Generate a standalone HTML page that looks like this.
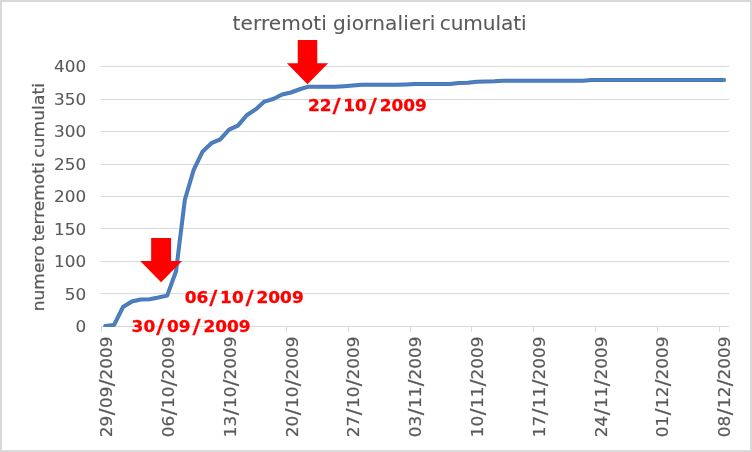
<!DOCTYPE html>
<html lang="it"><head><meta charset="utf-8"><title>terremoti giornalieri cumulati</title>
<style>html,body{margin:0;padding:0;background:#fff;overflow:hidden}svg{display:block}text{font-family:"DejaVu Sans","Liberation Sans",sans-serif;fill:#595959;stroke:#595959;stroke-width:0.08px}.ax{font-size:15.7px}.xl{font-size:16.4px;stroke-width:0.2px}.red{fill:#ff0000;stroke:#ff0000;stroke-width:0.3px;font-weight:bold;font-size:16px}</style></head><body>
<svg width="752" height="452" viewBox="0 0 752 452">
<rect x="0" y="0" width="752" height="452" fill="#fff"/>
<rect x="1" y="1" width="750" height="450" fill="none" stroke="#d9d9d9" stroke-width="2"/>
<rect x="101" y="66" width="628" height="1" fill="#d9d9d9"/>
<rect x="101" y="99" width="628" height="1" fill="#d9d9d9"/>
<rect x="101" y="131" width="628" height="1" fill="#d9d9d9"/>
<rect x="101" y="164" width="628" height="1" fill="#d9d9d9"/>
<rect x="101" y="196" width="628" height="1" fill="#d9d9d9"/>
<rect x="101" y="228" width="628" height="1" fill="#d9d9d9"/>
<rect x="101" y="261" width="628" height="1" fill="#d9d9d9"/>
<rect x="101" y="293" width="628" height="1" fill="#d9d9d9"/>
<rect x="101" y="326" width="628" height="1" fill="#d9d9d9"/>
<rect x="101" y="326" width="1" height="6" fill="#d9d9d9"/>
<rect x="162" y="326" width="1" height="6" fill="#d9d9d9"/>
<rect x="224" y="326" width="1" height="6" fill="#d9d9d9"/>
<rect x="286" y="326" width="1" height="6" fill="#d9d9d9"/>
<rect x="348" y="326" width="1" height="6" fill="#d9d9d9"/>
<rect x="410" y="326" width="1" height="6" fill="#d9d9d9"/>
<rect x="471" y="326" width="1" height="6" fill="#d9d9d9"/>
<rect x="533" y="326" width="1" height="6" fill="#d9d9d9"/>
<rect x="595" y="326" width="1" height="6" fill="#d9d9d9"/>
<rect x="657" y="326" width="1" height="6" fill="#d9d9d9"/>
<rect x="719" y="326" width="1" height="6" fill="#d9d9d9"/>
<text class="ax" text-anchor="end" transform="translate(86.3,72.00) scale(1.075,1)">400</text>
<text class="ax" text-anchor="end" transform="translate(86.3,104.50) scale(1.075,1)">350</text>
<text class="ax" text-anchor="end" transform="translate(86.3,137.00) scale(1.075,1)">300</text>
<text class="ax" text-anchor="end" transform="translate(86.3,169.50) scale(1.075,1)">250</text>
<text class="ax" text-anchor="end" transform="translate(86.3,202.00) scale(1.075,1)">200</text>
<text class="ax" text-anchor="end" transform="translate(86.3,234.50) scale(1.075,1)">150</text>
<text class="ax" text-anchor="end" transform="translate(86.3,267.00) scale(1.075,1)">100</text>
<text class="ax" text-anchor="end" transform="translate(86.3,299.50) scale(1.075,1)">50</text>
<text class="ax" text-anchor="end" transform="translate(86.3,332.00) scale(1.075,1)">0</text>
<text y="30.2" style="font-size:20.1px"><tspan x="232.5" style="letter-spacing:0.09px">terremoti </tspan><tspan x="333.1" style="letter-spacing:0.13px">giornalieri </tspan><tspan x="439.7" style="letter-spacing:-0.07px">cumulati</tspan></text>
<text transform="translate(44.1,311.2) rotate(-90) scale(1.076,1)" style="font-size:15.8px;stroke-width:0.25px"><tspan x="0.00">numero </tspan><tspan x="64.68">terremoti </tspan><tspan x="142.57" style="letter-spacing:0.1px">cumulati</tspan></text>
<text class="xl" text-anchor="middle" transform="translate(112.26,436.6) rotate(-90) scale(1.027,1)"><tspan x="9.85">29</tspan><tspan x="24.05" dy="0.9" style="font-size:19.5px">/</tspan><tspan x="38.25" dy="-0.9">09</tspan><tspan x="52.30" dy="0.9" style="font-size:19.5px">/</tspan><tspan x="76.50" dy="-0.9">2009</tspan></text>
<text class="xl" text-anchor="middle" transform="translate(174.07,436.6) rotate(-90) scale(1.027,1)"><tspan x="9.85">06</tspan><tspan x="24.05" dy="0.9" style="font-size:19.5px">/</tspan><tspan x="38.25" dy="-0.9">10</tspan><tspan x="52.30" dy="0.9" style="font-size:19.5px">/</tspan><tspan x="76.50" dy="-0.9">2009</tspan></text>
<text class="xl" text-anchor="middle" transform="translate(235.87,436.6) rotate(-90) scale(1.027,1)"><tspan x="9.85">13</tspan><tspan x="24.05" dy="0.9" style="font-size:19.5px">/</tspan><tspan x="38.25" dy="-0.9">10</tspan><tspan x="52.30" dy="0.9" style="font-size:19.5px">/</tspan><tspan x="76.50" dy="-0.9">2009</tspan></text>
<text class="xl" text-anchor="middle" transform="translate(297.67,436.6) rotate(-90) scale(1.027,1)"><tspan x="9.85">20</tspan><tspan x="24.05" dy="0.9" style="font-size:19.5px">/</tspan><tspan x="38.25" dy="-0.9">10</tspan><tspan x="52.30" dy="0.9" style="font-size:19.5px">/</tspan><tspan x="76.50" dy="-0.9">2009</tspan></text>
<text class="xl" text-anchor="middle" transform="translate(359.48,436.6) rotate(-90) scale(1.027,1)"><tspan x="9.85">27</tspan><tspan x="24.05" dy="0.9" style="font-size:19.5px">/</tspan><tspan x="38.25" dy="-0.9">10</tspan><tspan x="52.30" dy="0.9" style="font-size:19.5px">/</tspan><tspan x="76.50" dy="-0.9">2009</tspan></text>
<text class="xl" text-anchor="middle" transform="translate(421.28,436.6) rotate(-90) scale(1.027,1)"><tspan x="9.85">03</tspan><tspan x="24.05" dy="0.9" style="font-size:19.5px">/</tspan><tspan x="38.25" dy="-0.9">11</tspan><tspan x="52.30" dy="0.9" style="font-size:19.5px">/</tspan><tspan x="76.50" dy="-0.9">2009</tspan></text>
<text class="xl" text-anchor="middle" transform="translate(483.08,436.6) rotate(-90) scale(1.027,1)"><tspan x="9.85">10</tspan><tspan x="24.05" dy="0.9" style="font-size:19.5px">/</tspan><tspan x="38.25" dy="-0.9">11</tspan><tspan x="52.30" dy="0.9" style="font-size:19.5px">/</tspan><tspan x="76.50" dy="-0.9">2009</tspan></text>
<text class="xl" text-anchor="middle" transform="translate(544.89,436.6) rotate(-90) scale(1.027,1)"><tspan x="9.85">17</tspan><tspan x="24.05" dy="0.9" style="font-size:19.5px">/</tspan><tspan x="38.25" dy="-0.9">11</tspan><tspan x="52.30" dy="0.9" style="font-size:19.5px">/</tspan><tspan x="76.50" dy="-0.9">2009</tspan></text>
<text class="xl" text-anchor="middle" transform="translate(606.69,436.6) rotate(-90) scale(1.027,1)"><tspan x="9.85">24</tspan><tspan x="24.05" dy="0.9" style="font-size:19.5px">/</tspan><tspan x="38.25" dy="-0.9">11</tspan><tspan x="52.30" dy="0.9" style="font-size:19.5px">/</tspan><tspan x="76.50" dy="-0.9">2009</tspan></text>
<text class="xl" text-anchor="middle" transform="translate(668.49,436.6) rotate(-90) scale(1.027,1)"><tspan x="9.85">01</tspan><tspan x="24.05" dy="0.9" style="font-size:19.5px">/</tspan><tspan x="38.25" dy="-0.9">12</tspan><tspan x="52.30" dy="0.9" style="font-size:19.5px">/</tspan><tspan x="76.50" dy="-0.9">2009</tspan></text>
<text class="xl" text-anchor="middle" transform="translate(730.29,436.6) rotate(-90) scale(1.027,1)"><tspan x="9.85">08</tspan><tspan x="24.05" dy="0.9" style="font-size:19.5px">/</tspan><tspan x="38.25" dy="-0.9">12</tspan><tspan x="52.30" dy="0.9" style="font-size:19.5px">/</tspan><tspan x="76.50" dy="-0.9">2009</tspan></text>
<clipPath id="pc"><rect x="90" y="40" width="650" height="287"/></clipPath>
<path clip-path="url(#pc)" d="M105.30,325.92 L114.14,324.88 L122.98,307.00 L131.82,301.48 L140.66,299.52 L149.50,299.20 L158.34,297.57 L167.18,295.62 L176.02,271.25 L184.86,199.75 L193.70,169.85 L202.54,151.65 L211.38,143.20 L220.22,139.30 L229.06,129.55 L237.90,125.65 L246.74,115.25 L255.58,109.40 L264.42,101.60 L273.26,99.00 L282.10,94.45 L290.94,92.50 L299.78,89.25 L308.62,86.65 L317.46,86.65 L326.30,86.65 L335.14,86.65 L343.98,86.13 L352.82,85.48 L361.66,84.70 L370.50,84.70 L379.34,84.70 L388.18,84.70 L397.02,84.70 L405.86,84.38 L414.70,84.05 L423.54,84.05 L432.38,84.05 L441.22,84.05 L450.06,84.05 L458.90,83.07 L467.74,82.75 L476.58,81.78 L485.42,81.45 L494.26,81.25 L503.10,80.80 L511.94,80.80 L520.78,80.80 L529.62,80.80 L538.46,80.80 L547.30,80.80 L556.14,80.80 L564.98,80.80 L573.82,80.80 L582.66,80.80 L591.50,80.00 L600.34,80.00 L609.18,80.00 L618.02,80.00 L626.86,80.00 L635.70,80.00 L644.54,80.00 L653.38,80.00 L662.22,80.00 L671.06,80.00 L679.90,80.00 L688.74,80.00 L697.58,80.00 L706.42,80.00 L715.26,80.00 L724.10,80.00" fill="none" stroke="#4476ba" stroke-width="4" stroke-linecap="round" stroke-linejoin="round"/>
<path clip-path="url(#pc)" d="M105.30,325.92 L114.14,324.88 L122.98,307.00 L131.82,301.48 L140.66,299.52 L149.50,299.20 L158.34,297.57 L167.18,295.62 L176.02,271.25 L184.86,199.75 L193.70,169.85 L202.54,151.65 L211.38,143.20 L220.22,139.30 L229.06,129.55 L237.90,125.65 L246.74,115.25 L255.58,109.40 L264.42,101.60 L273.26,99.00 L282.10,94.45 L290.94,92.50 L299.78,89.25 L308.62,86.65 L317.46,86.65 L326.30,86.65 L335.14,86.65 L343.98,86.13 L352.82,85.48 L361.66,84.70 L370.50,84.70 L379.34,84.70 L388.18,84.70 L397.02,84.70 L405.86,84.38 L414.70,84.05 L423.54,84.05 L432.38,84.05 L441.22,84.05 L450.06,84.05 L458.90,83.07 L467.74,82.75 L476.58,81.78 L485.42,81.45 L494.26,81.25 L503.10,80.80 L511.94,80.80 L520.78,80.80 L529.62,80.80 L538.46,80.80 L547.30,80.80 L556.14,80.80 L564.98,80.80 L573.82,80.80 L582.66,80.80 L591.50,80.00 L600.34,80.00 L609.18,80.00 L618.02,80.00 L626.86,80.00 L635.70,80.00 L644.54,80.00 L653.38,80.00 L662.22,80.00 L671.06,80.00 L679.90,80.00 L688.74,80.00 L697.58,80.00 L706.42,80.00 L715.26,80.00 L724.10,80.00" fill="none" stroke="#4f81bd" stroke-width="2" stroke-linecap="round" stroke-linejoin="round"/>
<path d="M297.75,40 H317.25 V63.2 H328.10 L307.5,84.3 L286.90,63.2 H297.75 Z" fill="#ff0000"/>
<path d="M151.15,238 H171.05 V261.1 H182.00 L161.1,282.3 L140.20,261.1 H151.15 Z" fill="#ff0000"/>
<text class="red" text-anchor="middle" transform="translate(309.0,111) scale(1.06,0.94)"><tspan x="10.09">22</tspan><tspan x="25.94" dy="1.1" style="font-size:20.9px">/</tspan><tspan x="43.49" dy="-1.1">10</tspan><tspan x="60.19" dy="1.1" style="font-size:20.9px">/</tspan><tspan x="88.96" dy="-1.1">2009</tspan></text>
<text class="red" text-anchor="middle" transform="translate(185.8,303) scale(1.06,0.94)"><tspan x="10.09">06</tspan><tspan x="25.94" dy="1.1" style="font-size:20.9px">/</tspan><tspan x="43.49" dy="-1.1">10</tspan><tspan x="60.19" dy="1.1" style="font-size:20.9px">/</tspan><tspan x="88.96" dy="-1.1">2009</tspan></text>
<text class="red" text-anchor="middle" transform="translate(132.7,332) scale(1.06,0.94)"><tspan x="10.09">30</tspan><tspan x="25.94" dy="1.1" style="font-size:20.9px">/</tspan><tspan x="43.49" dy="-1.1">09</tspan><tspan x="60.19" dy="1.1" style="font-size:20.9px">/</tspan><tspan x="88.96" dy="-1.1">2009</tspan></text>
</svg></body></html>
